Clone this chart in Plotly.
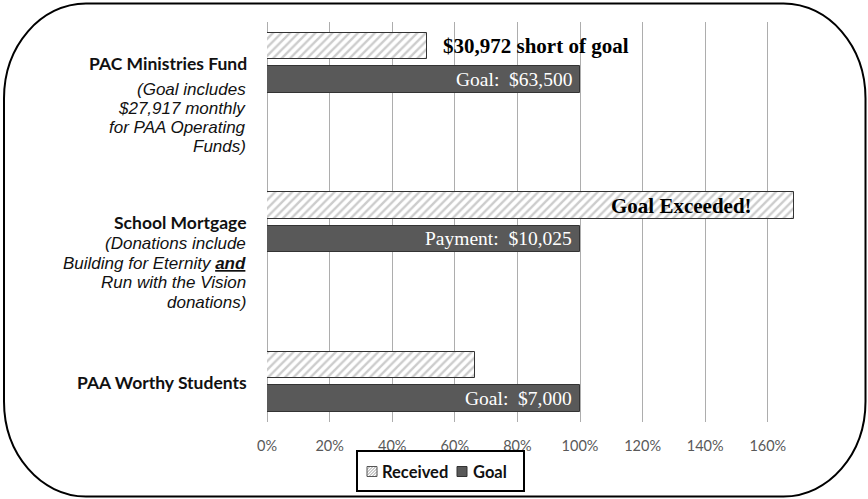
import plotly.graph_objects as go

# ---------------- data ----------------
categories = ["PAC Ministries Fund", "School Mortgage", "PAA Worthy Students"]
category_notes = [
    ["(Goal includes", "$27,917 monthly", "for PAA Operating", "Funds)"],
    ["(Donations include", "Building for Eternity <b><u>and</u></b>", "Run with the Vision", "donations)"],
    [],
]
series_names = ["Received", "Goal"]
received_pct = [0.512, 1.684, 0.665]
goal_pct = [1.0, 1.0, 1.0]
goal_labels = ["Goal:  $63,500", "Payment:  $10,025", "Goal:  $7,000"]
received_labels = ["$30,972 short of goal", "Goal Exceeded!", ""]
tick_vals = [0, 0.2, 0.4, 0.6, 0.8, 1.0, 1.2, 1.4, 1.6]
tick_text = ["0%", "20%", "40%", "60%", "80%", "100%", "120%", "140%", "160%"]

# ---------------- layout geometry ----------------
W, H = 868, 499
ML, MR, MT, MB = 267, 44, 22, 77
PW, PH = W - ML - MR, H - MT - MB
pos = list(range(len(categories)))

def px(x):
    return (x - ML) / PW

def py(y):
    return (H - MB - y) / PH

SERIF = "Liberation Serif"
SANS = "Liberation Sans"
CAL = "Lato"
GOAL_COLOR = "#595959"
HATCH = "#999999"
EDGE = "#333333"

fig = go.Figure()
fig.add_trace(go.Bar(
    name=series_names[0], y=pos, x=received_pct, orientation="h",
    offset=-0.19, width=0.166, showlegend=False,
    marker=dict(color="white", line=dict(color=EDGE, width=1),
                pattern=dict(shape="/", fgcolor=HATCH, bgcolor="white",
                             size=6, solidity=0.4)),
    hoverinfo="skip",
))
fig.add_trace(go.Bar(
    name=series_names[1], y=pos, x=goal_pct, orientation="h",
    offset=0.019, width=0.166, showlegend=False,
    marker=dict(color=GOAL_COLOR, line=dict(color=EDGE, width=1)),
    hoverinfo="skip",
))

ann = []
# labels on the left
title_y_px = [63, 222.5, 382]
note_y_px = [[89, 108.5, 127.5, 146.5], [244, 263, 282.5, 302], []]
for i, cat in enumerate(categories):
    ann.append(dict(xref="paper", yref="paper", x=px(249), y=py(title_y_px[i]),
                    xanchor="right", yanchor="middle", showarrow=False,
                    text="<b>%s</b>" % cat,
                    font=dict(family=CAL, size=17.5, color="#111111")))
    for j, line in enumerate(category_notes[i]):
        ann.append(dict(xref="paper", yref="paper", x=px(248), y=py(note_y_px[i][j]),
                        xanchor="right", yanchor="middle", showarrow=False,
                        text="<i>%s</i>" % line,
                        font=dict(family=SANS, size=17, color="#111111")))

# goal labels inside the goal bars
for i, t in enumerate(goal_labels):
    ann.append(dict(xref="x", yref="y", x=goal_pct[i], y=pos[i], yshift=-16, xshift=-6,
                    xanchor="right", yanchor="middle", showarrow=False, text=t,
                    font=dict(family=SERIF, size=19.5, color="white")))

# received labels
ann.append(dict(xref="x", yref="y", x=received_pct[0], y=pos[0], yshift=17, xshift=14,
                xanchor="left", yanchor="middle", showarrow=False,
                text="<b>%s</b>" % received_labels[0],
                font=dict(family=SERIF, size=21, color="black")))
ann.append(dict(xref="x", yref="y", x=received_pct[1], y=pos[1], yshift=17, xshift=-40,
                xanchor="right", yanchor="middle", showarrow=False,
                text="<b>%s</b>" % received_labels[1],
                font=dict(family=SERIF, size=21, color="black")))

# ---------------- legend (drawn) ----------------
LEG_Y = 471.5
ann.append(dict(xref="paper", yref="paper", x=px(380), y=py(LEG_Y), xanchor="left",
                yanchor="middle", showarrow=False, text="<b>%s</b>" % series_names[0],
                font=dict(family=CAL, size=16.5, color="#111111")))
ann.append(dict(xref="paper", yref="paper", x=px(471), y=py(LEG_Y), xanchor="left",
                yanchor="middle", showarrow=False, text="<b>%s</b>" % series_names[1],
                font=dict(family=CAL, size=16.5, color="#111111")))

def P(x, y):
    return "%.5f,%.5f" % (px(x), py(y))

SW = 10
s1x0, s1x1, sy0, sy1 = 367, 367 + SW, LEG_Y - SW / 2, LEG_Y + SW / 2
s2x0 = 457
hatch_path = ""
for d in [3, 6, 9, 12, 15, 18]:
    if d >= 2 * SW:
        continue
    xa, ya = s1x0 + max(0, d - SW), sy0 + min(d, SW)
    xb, yb = s1x0 + min(d, SW), sy0 + max(0, d - SW)
    hatch_path += "M" + P(xa, ya) + " L" + P(xb, yb) + " "

# rounded outer frame
L, R, T, B = 4, 865.5, 3.5, 496.5
rx, ry, k = 82, 95, 0.5523
path = (
    "M" + P(L, T + ry)
    + " C" + P(L, T + ry - k * ry) + " " + P(L + rx - k * rx, T) + " " + P(L + rx, T)
    + " L" + P(R - rx, T)
    + " C" + P(R - rx + k * rx, T) + " " + P(R, T + ry - k * ry) + " " + P(R, T + ry)
    + " L" + P(R, B - ry)
    + " C" + P(R, B - ry + k * ry) + " " + P(R - rx + k * rx, B) + " " + P(R - rx, B)
    + " L" + P(L + rx, B)
    + " C" + P(L + rx - k * rx, B) + " " + P(L, B - ry + k * ry) + " " + P(L, B - ry)
    + " Z"
)
shapes = [
    dict(type="path", xref="paper", yref="paper", path=path,
         line=dict(color="black", width=2), layer="above"),
    # legend frame
    dict(type="rect", xref="paper", yref="paper",
         x0=px(357), x1=px(524), y0=py(451), y1=py(491),
         line=dict(color="black", width=2), fillcolor="rgba(0,0,0,0)", layer="above"),
    # legend swatches
    dict(type="path", xref="paper", yref="paper", path=hatch_path,
         line=dict(color=HATCH, width=1), layer="above"),
    dict(type="rect", xref="paper", yref="paper",
         x0=px(s1x0), x1=px(s1x1), y0=py(sy0), y1=py(sy1),
         line=dict(color="#555555", width=1), fillcolor="rgba(0,0,0,0)", layer="above"),
    dict(type="rect", xref="paper", yref="paper",
         x0=px(s2x0), x1=px(s2x0 + SW), y0=py(sy0), y1=py(sy1),
         line=dict(color=EDGE, width=1), fillcolor=GOAL_COLOR, layer="above"),
]

fig.update_layout(
    width=W, height=H,
    margin=dict(l=ML, r=MR, t=MT, b=MB, pad=0),
    paper_bgcolor="white", plot_bgcolor="white",
    showlegend=False,
    xaxis=dict(range=[0, PW / 313.0], tickvals=tick_vals, ticktext=tick_text,
               showgrid=True, gridcolor="#adadad", gridwidth=1,
               zeroline=True, zerolinecolor="#adadad", zerolinewidth=1,
               showline=False, ticks="", ticklabelstandoff=13,
               tickfont=dict(family=CAL, size=14.5, color="#595959")),
    yaxis=dict(range=[2 + (H - MB - 382) / 159.5, -(63 - MT) / 159.5],
               showticklabels=False, showgrid=False, zeroline=False, showline=False),
    annotations=ann, shapes=shapes,
    bargap=0, barmode="overlay",
)

fig.write_html("out.html", config={"displayModeBar": False},
               post_script="document.body.style.margin='0';document.body.style.overflow='hidden';")
